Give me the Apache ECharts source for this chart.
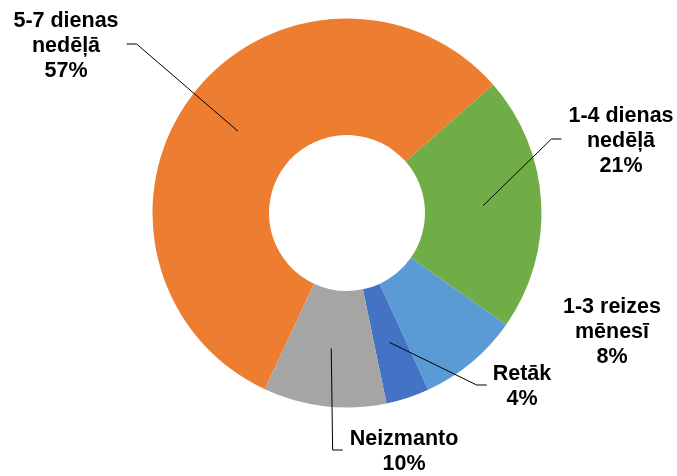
<!DOCTYPE html>
<html>
<head>
<meta charset="utf-8">
<script src="https://cdn.jsdelivr.net/npm/echarts@6/dist/echarts.min.js"></script>
<style>
    html, body { margin: 0; padding: 0; background: #fff; }
    #chart { width: 677px; height: 476px; }
</style>
</head>
<body>
<div id="chart"></div>
<script>
// dati
var categories = ['5-7 dienas\nnedēļā', '1-4 dienas\nnedēļā', '1-3 reizes\nmēnesī', 'Retāk', 'Neizmanto'];
var values = [56.6, 21.2, 8.4, 3.6, 10.2];
var colors = ['#ED7D31', '#70AD47', '#5B9BD5', '#4472C4', '#A5A5A5'];

// etiķešu novietojums (teksta bloka centrs) un līniju puse
var labelPos = [[66, 46], [621, 141], [612, 332], [522, 387], [404, 452]];
var lineSide = ['right', 'left', 'none', 'left', 'left'];
var lineGap = [8, 7, 0, 6, 7];

var chart = echarts.init(document.getElementById('chart'));

var pieData = [];
var labelData = [];
for (var i = 0; i < categories.length; i++) {
    pieData.push({ name: categories[i], value: values[i] });
    labelData.push({
        name: categories[i],
        value: values[i],
        labelLine: { show: lineSide[i] !== 'none' }
    });
}

var pieBase = {
    type: 'pie',
    center: [347, 213],
    radius: [78, 194.5],
    startAngle: 245,
    clockwise: true,
    avoidLabelOverlap: false,
    emphasis: { disabled: true },
    silent: true
};

var option = {
    animation: false,
    color: colors,
    series: [
        // gredzens
        echarts.util.extend({
            label: { show: false },
            labelLine: { show: false },
            data: pieData
        }, pieBase),
        // etiķetes un līnijas virs gredzena
        echarts.util.extend({
            z: 5,
            itemStyle: { color: 'rgba(0,0,0,0)' },
            label: {
                show: true,
                position: 'outside',
                color: '#000',
                fontFamily: 'Liberation Sans, Arial, sans-serif',
                fontWeight: 'bold',
                fontSize: 21.5,
                lineHeight: 25,
                align: 'center',
                formatter: function (p) {
                    return p.name + '\n' + Math.round(p.percent) + '%';
                }
            },
            labelLine: {
                show: true,
                length: 5,
                length2: 5,
                lineStyle: { color: '#000', width: 1, opacity: 1 }
            },
            labelLayout: function (params) {
                var i = params.dataIndex;
                var pos = labelPos[i];
                var out = { x: pos[0], y: pos[1], align: 'center', verticalAlign: 'middle' };
                if (lineSide[i] !== 'none') {
                    // līnijas sākums - sektora vidū
                    var lay = chart.getModel().getSeriesByIndex(1).getData().getItemLayout(i);
                    var mid = (lay.startAngle + lay.endAngle) / 2;
                    var rm = (lay.r + lay.r0) / 2;
                    var ax = lay.cx + rm * Math.cos(mid);
                    var ay = lay.cy + rm * Math.sin(mid);
                    var dir = lineSide[i] === 'right' ? 1 : -1;
                    var ex = pos[0] + dir * (params.labelRect.width / 2 + lineGap[i]);
                    var ey = pos[1] - 2;
                    out.labelLinePoints = [[ax, ay], [ex + dir * 10, ey], [ex, ey]];
                }
                return out;
            },
            data: labelData
        }, pieBase)
    ]
};
chart.setOption(option);
</script>
</body>
</html>
